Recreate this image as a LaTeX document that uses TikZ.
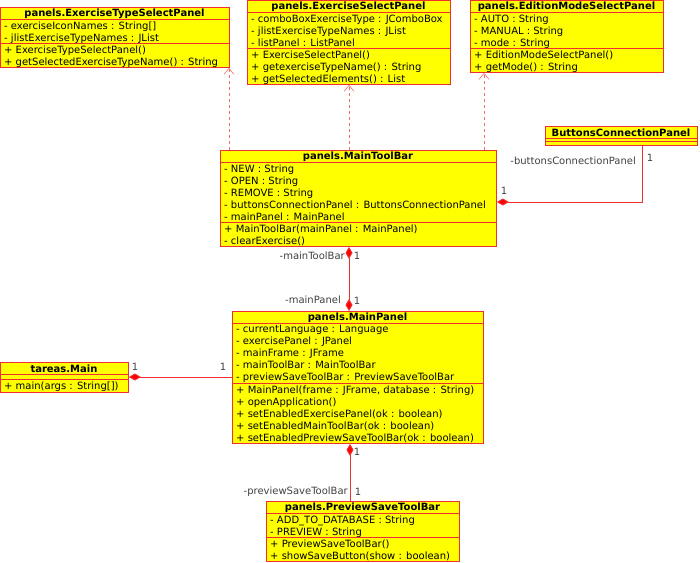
\documentclass[tikz,border=0pt]{standalone}
\usepackage{fontspec}
\setmainfont{DejaVu Sans}
\usetikzlibrary{arrows.meta}
\definecolor{bord}{HTML}{F03030}
\definecolor{fil}{HTML}{FFFF00}
\definecolor{lbl}{HTML}{404040}
\tikzset{
  box/.style={draw=bord,fill=fil,line width=0.9pt,inner sep=0pt,anchor=north west},
  sep/.style={draw=bord,line width=0.9pt},
  ttl/.style={font=\fontsize{10}{12}\selectfont\bfseries,inner sep=0pt},
  txt/.style={font=\fontsize{10}{12}\selectfont,inner sep=0pt,align=left,anchor=north west},
  dep/.style={draw=bord!70,dashed,line width=0.6pt,-{Straight Barb[length=6pt,width=10pt]}},
  comp/.style={draw=bord,line width=0.9pt},
  lab/.style={font=\fontsize{10}{12}\selectfont,text=lbl,inner sep=1pt},
  dia/.tip={Diamond[fill=red,length=12pt,width=7pt]}}
% #1 name #2 x #3 y #4 w #5 title #6 h attrs #7 attrs #8 h ops #9 ops
\newcommand\umlbox[9]{%
  \node[box,minimum width=#4pt,minimum height={(12+#6+#8)*1pt}] (#1) at (#2,#3) {};
  \node[ttl] at ({#2+#4/2},{#3+7}) {#5};
  \draw[sep] (#2,{#3+12}) -- ++(#4,0);
  \draw[sep] (#2,{#3+12+#6}) -- ++(#4,0);
  \node[txt] at ({#2+4},{#3+14.5}) {#7};
  \node[txt] at ({#2+4},{#3+14.5+#6}) {#9};
}
\begin{document}
\begin{tikzpicture}[x=1pt,y=-1pt]
\useasboundingbox (0,0) rectangle (700,562);
\umlbox{etsp}{0}{7}{229}{panels.ExerciseTypeSelectPanel}{24}{- exerciseIconNames : String[]\\- jlistExerciseTypeNames : JList}{24}{+ ExerciseTypeSelectPanel()\\+ getSelectedExerciseTypeName() : String}
\umlbox{esp}{247}{0}{203}{panels.ExerciseSelectPanel}{36}{- comboBoxExerciseType : JComboBox\\- jlistExerciseTypeNames : JList\\- listPanel : ListPanel}{36}{+ ExerciseSelectPanel()\\+ getexerciseTypeName() : String\\+ getSelectedElements() : List}
\umlbox{emsp}{470}{0}{193}{panels.EditionModeSelectPanel}{36}{- AUTO : String\\- MANUAL : String\\- mode : String}{24}{+ EditionModeSelectPanel()\\+ getMode() : String}
\umlbox{bcp}{545}{126}{152}{ButtonsConnectionPanel}{3}{}{4}{}
\umlbox{mtb}{220}{150}{276}{panels.MainToolBar}{60}{- NEW : String\\- OPEN : String\\- REMOVE : String\\- buttonsConnectionPanel : ButtonsConnectionPanel\\- mainPanel : MainPanel}{24}{+ MainToolBar(mainPanel : MainPanel)\\- clearExercise()}
\umlbox{mp}{232}{311}{251}{panels.MainPanel}{60}{- currentLanguage : Language\\- exercisePanel : JPanel\\- mainFrame : JFrame\\- mainToolBar : MainToolBar\\- previewSaveToolBar : PreviewSaveToolBar}{60}{+ MainPanel(frame : JFrame, database : String)\\+ openApplication()\\+ setEnabledExercisePanel(ok : boolean)\\+ setEnabledMainToolBar(ok : boolean)\\+ setEnabledPreviewSaveToolBar(ok : boolean)}
\umlbox{tm}{0}{362}{128}{tareas.Main}{5}{}{13}{+ main(args : String[])}
\umlbox{pstb}{266}{501}{193}{panels.PreviewSaveToolBar}{24}{- ADD\_TO\_DATABASE : String\\- PREVIEW : String}{24}{+ PreviewSaveToolBar()\\+ showSaveButton(show : boolean)}
% dependencies
\draw[dep] (mtb.north west -| 229,0) -- (etsp.south west -| 229,0);
\draw[dep] (mtb.north west -| 349,0) -- (esp.south west -| 349,0);
\draw[dep] (mtb.north west -| 484,0) -- (emsp.south west -| 484,0);
% compositions
\coordinate (bc) at (642,202);
\draw[comp,dia-] (mtb.east |- bc) -- (bc) -- (bcp.south west -| bc);
\draw[comp,dia-dia] (mtb.south west -| 349,0) -- (mp.north west -| 349,0);
\draw[comp,dia-] (tm.east |- 0,377) -- (mp.west |- 0,377);
\draw[comp,dia-] (mp.south west -| 350,0) -- (pstb.north west -| 350,0);
% labels
\node[lab,anchor=east] at (637,161) {-buttonsConnectionPanel};
\node[lab] at (650,158) {1};
\node[lab] at (504,191) {1};
\node[lab,anchor=east] at (346,256) {-mainToolBar};
\node[lab] at (357,256) {1};
\node[lab,anchor=east] at (342,300) {-mainPanel};
\node[lab] at (357,301) {1};
\node[lab] at (135,367) {1};
\node[lab] at (223,367) {1};
\node[lab] at (357,452) {1};
\node[lab,anchor=east] at (349,492) {-previewSaveToolBar};
\node[lab] at (358,492) {1};
\end{tikzpicture}
\end{document}
